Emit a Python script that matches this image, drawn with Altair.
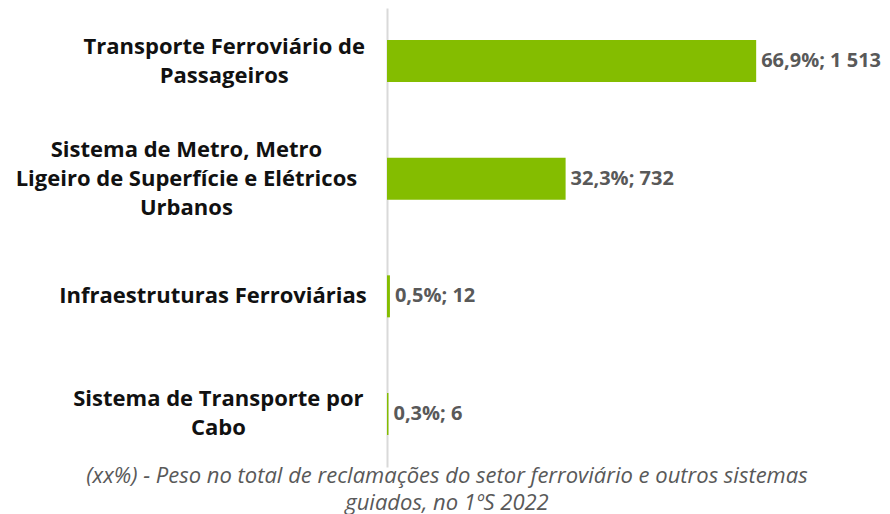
import altair as alt
import pandas as pd

# ---- data ----
categories = [
    "Transporte Ferroviário de\nPassageiros",
    "Sistema de Metro, Metro\nLigeiro de Superfície e Elétricos\nUrbanos",
    "Infraestruturas Ferroviárias",
    "Sistema de Transporte por\nCabo",
]
counts = [1513, 732, 12, 6]
shares = [66.9, 32.3, 0.5, 0.3]
footnote = [
    "(xx%) - Peso no total de reclamações do setor ferroviário e outros sistemas",
    "guiados, no 1ºS 2022",
]

# ---- styling ----
GREEN = "#84BD00"
GREY = "#595959"
AXIS_GREY = "#D9D9D9"
FONT = "Open Sans"
LABEL_SIZE = 22
VALUE_SIZE = 20
LINE_H = 29
LABEL_GAP = 25  # gap between category labels and axis line
HEIGHT = 459
P_INNER = 0.643
P_OUTER = 0.272

n_cat = len(categories)
step = HEIGHT / (n_cat - P_INNER + 2 * P_OUTER)
bandwidth = step * (1 - P_INNER)


def text_width(s, size):
    w = 0.0
    for c in s:
        if c in "iljfrtI.,;:í'|!":
            w += 0.33
        elif c in "mwMW":
            w += 0.92
        elif c == " ":
            w += 0.26
        elif c.isupper():
            w += 0.66
        else:
            w += 0.60
    return w * size * 1.02


def fmt_label(share, count):
    s = f"{share:.1f}".replace(".", ",")
    c = f"{count:,}".replace(",", " ")
    return f"{s}%; {c}"


df = pd.DataFrame({"cat": categories, "count": counts, "share": shares})
df["label"] = [fmt_label(s, c) for s, c in zip(shares, counts)]

# one row per label line, each line centred within its block
rows = []
for cat in categories:
    lines = cat.split("\n")
    block_w = max(text_width(l, LABEL_SIZE) for l in lines)
    n = len(lines)
    for k, line in enumerate(lines):
        rows.append({
            "cat": cat,
            "line": line,
            "cx": -LABEL_GAP - block_w / 2,
            "off": bandwidth / 2 + (k - (n - 1) / 2) * LINE_H,
        })
lines_df = pd.DataFrame(rows)

y_scale = alt.Scale(domain=categories, paddingInner=P_INNER, paddingOuter=P_OUTER)
x_scale = alt.Scale(domain=[0, 2000], nice=False)

bars = alt.Chart(df).mark_bar(color=GREEN).encode(
    x=alt.X("count:Q", scale=x_scale, axis=None),
    y=alt.Y(
        "cat:N", scale=y_scale,
        axis=alt.Axis(title=None, labels=False, ticks=False, domain=True,
                      domainColor=AXIS_GREY, domainWidth=2),
    ),
)

values = alt.Chart(df).mark_text(
    align="left", baseline="middle", dx=5, font=FONT,
    fontSize=VALUE_SIZE, fontWeight="bold", color=GREY,
).encode(
    x=alt.X("count:Q", scale=x_scale, axis=None),
    y=alt.Y("cat:N", scale=y_scale),
    text="label:N",
)

cat_labels = alt.Chart(lines_df).mark_text(
    align="center", baseline="middle", font=FONT, fontSize=LABEL_SIZE,
    fontWeight="bold", color="#111111",
).encode(
    x=alt.X("cx:Q", scale=None),
    y=alt.Y("cat:N", scale=y_scale),
    yOffset=alt.YOffset("off:Q", scale=None),
    text="line:N",
)

foot_df = pd.DataFrame({"t": ["\n".join(footnote)]})
foot = alt.Chart(foot_df).mark_text(
    align="center", baseline="middle", font=FONT, fontSize=22,
    fontStyle="italic", color=GREY, lineBreak="\n", lineHeight=27,
).encode(
    x=alt.value(60),
    y=alt.value(468),
    text="t:N",
)

chart = alt.layer(bars, values, cat_labels, foot).properties(
    width=488,
    height=HEIGHT,
    autosize=alt.AutoSizeParams(type="none"),
    padding={"left": 379, "top": 0, "right": 7, "bottom": 47},
).configure_view(stroke=None)

chart.save("out.html", embed_options={"renderer": "svg", "actions": False})
